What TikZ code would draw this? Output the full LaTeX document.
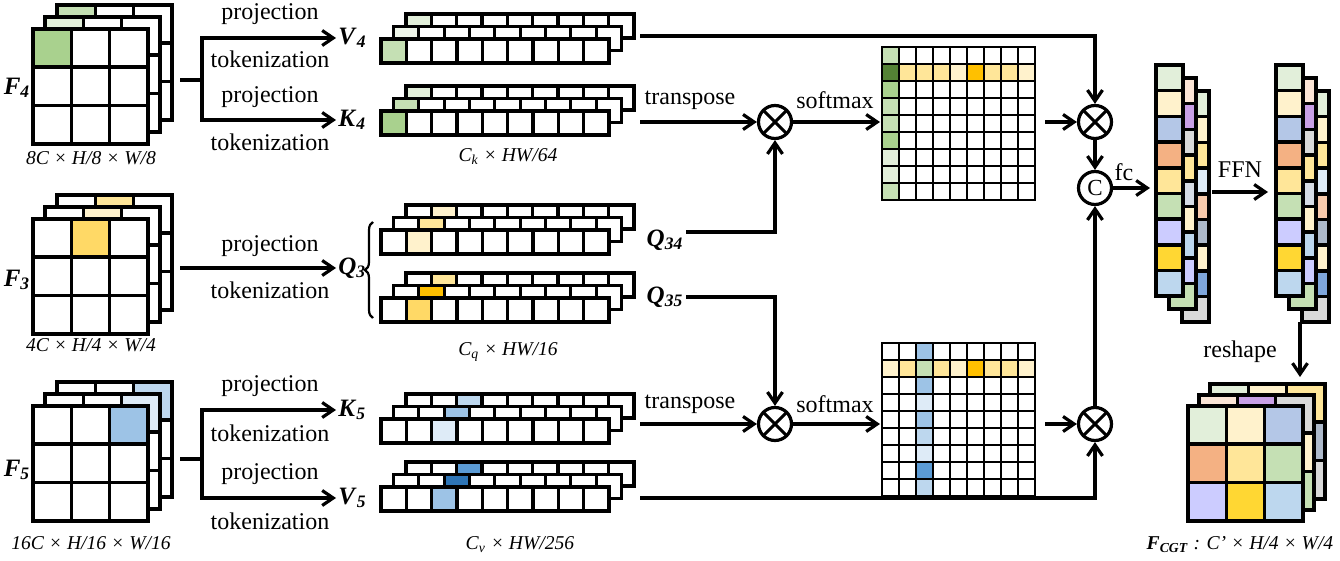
\documentclass[tikz,border=0pt]{standalone}
\usepackage{fontspec}
\setmainfont{Liberation Serif}
\usetikzlibrary{arrows.meta}
\usetikzlibrary{decorations.pathreplacing}

\definecolor{grn0}{HTML}{EEF5E9}
\definecolor{grn1}{HTML}{E2EFDA}
\definecolor{grn2}{HTML}{C5E0B4}
\definecolor{grn3}{HTML}{A9D18E}
\definecolor{grn4}{HTML}{548235}
\definecolor{yel1}{HTML}{FFF2CC}
\definecolor{yel2}{HTML}{FFE699}
\definecolor{yel3}{HTML}{FFD966}
\definecolor{yel4}{HTML}{FFC000}
\definecolor{yel5}{HTML}{FFD733}
\definecolor{blu1}{HTML}{DEEBF7}
\definecolor{blu2}{HTML}{BDD7EE}
\definecolor{blu3}{HTML}{9DC3E6}
\definecolor{blu4}{HTML}{5B9BD5}
\definecolor{blu5}{HTML}{2E75B6}
\definecolor{blu6}{HTML}{7EA6DC}
\definecolor{bluA}{HTML}{B4C7E7}
\definecolor{org}{HTML}{F4B183}
\definecolor{peach}{HTML}{FBE5D6}
\definecolor{peach2}{HTML}{F8CBAD}
\definecolor{lav}{HTML}{CCCCFF}
\definecolor{purp}{HTML}{C9A0E6}
\definecolor{gry}{HTML}{D9D9D9}
\definecolor{gblu}{HTML}{D6DCE5}
\definecolor{slate}{HTML}{ADB9CA}

\newcommand{\vsym}[2]{\textbf{\textit{#1}}\textsubscript{\textbf{\textit{#2}}}}

\newcommand{\gridlayer}[3]{%
  \foreach \cl [count=\i from 0] in {#3} {
    \pgfmathtruncatemacro\gcol{mod(\i,3)}
    \pgfmathtruncatemacro\grow{div(\i,3)}
    \draw[cell, fill=\cl] ({#1+38.3*\gcol},{#2+38.3*\grow}) rectangle ++(38.3,38.3);
  }}

\newcommand{\colstrip}[3]{%
  \foreach \cl [count=\i from 0] in {#3}
    \draw[cell, fill=\cl] ({#1},{#2+25.7*\i}) rectangle ++(27,25.7);}

\newcommand{\tokstack}[6]{%
  \foreach \l/\cl in {2/#4,1/#5,0/#6} {
    \foreach \i in {0,...,8}
      \draw[tok, fill=white] ({#1+12.5*\l+25.33*\i},{#2-12.5*\l}) rectangle ++(25.33,24);
    \draw[tok, fill=\cl] ({#1+12.5*\l+25.33*#3},{#2-12.5*\l}) rectangle ++(25.33,24);
  }}

\newcommand{\attmap}[2]{%
  \foreach \r in {0,...,8}
    \foreach \k in {0,...,8}
      \draw[mcell, fill=white] ({#1+17*\k},{#2+17*\r}) rectangle ++(17,17);}

\begin{document}
\begin{tikzpicture}[x=0.5pt, y=-0.5pt,
  cell/.style={draw, line width=1.8pt},
  tok/.style={draw, line width=1.6pt},
  mcell/.style={draw, line width=1.4pt},
  conn/.style={line width=1.6pt},
  arr/.style={line width=1.6pt, -{Straight Barb[length=5.5pt,width=7.5pt]}},
  op/.style={circle, draw, line width=1.6pt, minimum size=16.5pt, inner sep=0pt},
  mulop/.style={op, path picture={\draw[line width=1.5pt]
    (path picture bounding box.north east) -- (path picture bounding box.south west)
    (path picture bounding box.north west) -- (path picture bounding box.south east);}},
  txt/.style={font=\fontsize{12}{14}\selectfont},
  lbl/.style={font=\fontsize{12.5}{14}\selectfont, inner sep=1pt},
  capt/.style={font=\fontsize{9.8}{11}\selectfont\itshape}]
  \useasboundingbox (0,0) rectangle (1340,561);

  % input feature maps
  \gridlayer{57}{5}{grn2,white,white,white,white,white,white,white,white}
  \gridlayer{45}{17}{grn1,white,white,white,white,white,white,white,white}
  \gridlayer{33}{29}{grn3,white,white,white,white,white,white,white,white}
  \gridlayer{57}{195}{white,yel2,white,white,white,white,white,white,white}
  \gridlayer{45}{207}{white,yel1,white,white,white,white,white,white,white}
  \gridlayer{33}{219}{white,yel3,white,white,white,white,white,white,white}
  \gridlayer{57}{382}{white,white,blu2,white,white,white,white,white,white}
  \gridlayer{45}{394}{white,white,blu1,white,white,white,white,white,white}
  \gridlayer{33}{406}{white,white,blu3,white,white,white,white,white,white}

  \node[lbl] (f4) at (17,88) {\vsym{F}{4}};
  \node[lbl] (f3) at (17,280) {\vsym{F}{3}};
  \node[lbl] (f5) at (17,470) {\vsym{F}{5}};
  \node[capt] at (91,158) {8C × H/8 × W/8};
  \node[capt] at (91,345) {4C × H/4 × W/4};
  \node[capt] at (91,543) {16C × H/16 × W/16};

  % tokens
  \tokstack{381}{39}{0}{grn1}{grn0}{grn2}
  \tokstack{381}{111}{0}{grn1}{grn2}{grn3}
  \tokstack{381}{230}{1}{yel1}{yel2}{yel1}
  \tokstack{381}{298}{1}{yel2}{yel4}{yel3}
  \tokstack{381}{419}{2}{blu2}{blu3}{blu1}
  \tokstack{381}{487}{2}{blu4}{blu5}{blu3}

  \node[capt] at (508,157) {C\textsubscript{k} × HW/64};
  \node[capt] at (508,352) {C\textsubscript{q} × HW/16};
  \node[capt] at (520,545) {C\textsubscript{v} × HW/256};

  \node[lbl, anchor=west] (v4) at (336,38) {\vsym{V}{4}};
  \node[lbl, anchor=west] (k4) at (336,120) {\vsym{K}{4}};
  \node[lbl, anchor=west] (q3) at (336,268) {\vsym{Q}{3}};
  \node[lbl, anchor=west] (k5) at (336,410) {\vsym{K}{5}};
  \node[lbl, anchor=west] (v5) at (336,498) {\vsym{V}{5}};
  \node[lbl] (q34) at (665,240) {\vsym{Q}{34}};
  \node[lbl] (q35) at (665,297) {\vsym{Q}{35}};
  \draw[line width=1.1pt, decorate, decoration={brace, amplitude=4pt}] (373,318) -- (373,222);

  \coordinate (f4o) at (180,80);
  \coordinate (f4j) at (202,80);
  \coordinate (f3o) at (180,268);
  \coordinate (f5o) at (180,459);
  \coordinate (f5j) at (202,459);
  \draw[conn] (f4o) -- (f4j);
  \draw[arr] (f4j) |- (v4.west);
  \draw[arr] (f4j) |- (k4.west);
  \draw[arr] (f3o) -- (q3.west);
  \draw[conn] (f5o) -- (f5j);
  \draw[arr] (f5j) |- (k5.west);
  \draw[arr] (f5j) |- (v5.west);

  \node[txt] at (270,14) {projection};
  \node[txt] at (270,59) {tokenization};
  \node[txt] at (270,97) {projection};
  \node[txt] at (270,142) {tokenization};
  \node[txt] at (270,246) {projection};
  \node[txt] at (270,290) {tokenization};
  \node[txt] at (270,386) {projection};
  \node[txt] at (270,433) {tokenization};
  \node[txt] at (270,474) {projection};
  \node[txt] at (270,521) {tokenization};

  % attention maps
  \attmap{882}{47}
  \foreach \r/\cl in {0/grn2,1/grn4,2/grn3,3/grn2,4/grn2,5/grn3,6/grn1,7/grn1,8/grn2}
    \draw[mcell, fill=\cl] (882,{47+17*\r}) rectangle ++(17,17);
  \foreach \k/\cl in {1/yel2,2/yel2,3/yel2,4/yel1,5/yel4,6/yel2,7/yel2,8/yel1}
    \draw[mcell, fill=\cl] ({882+17*\k},64) rectangle ++(17,17);
  \attmap{882}{343}
  \foreach \r/\cl in {0/blu3,1/grn2,2/blu3,3/blu1,4/blu3,5/blu2,6/blu1,7/blu4,8/blu2}
    \draw[mcell, fill=\cl] (916,{343+17*\r}) rectangle ++(17,17);
  \foreach \k/\cl in {0/yel1,1/yel2,3/yel2,4/yel1,5/yel4,6/yel2,7/yel2,8/yel1}
    \draw[mcell, fill=\cl] ({882+17*\k},360) rectangle ++(17,17);

  \node[mulop] (mul1) at (775,122) {};
  \node[mulop] (mul2) at (775,424) {};
  \node[mulop] (mul3) at (1095,122) {};
  \node[mulop] (mul4) at (1095,424) {};
  \node[op, font=\fontsize{11.5}{12}\selectfont] (cat) at (1095,188) {C};

  \coordinate (v4e) at (640,36);
  \coordinate (k4e) at (640,122);
  \coordinate (q34e) at (686,232);
  \coordinate (q35e) at (686,297);
  \coordinate (k5e) at (640,424);
  \coordinate (v5e) at (640,498);
  \coordinate (att1w) at (880,122);
  \coordinate (att1e) at (1045,122);
  \coordinate (att2w) at (880,424);
  \coordinate (att2e) at (1045,424);

  \draw[arr] (k4e) -- (mul1.west);
  \draw[arr] (q34e) -| (mul1.south);
  \draw[arr] (mul1.east) -- (att1w);
  \draw[arr] (att1e) -- (mul3.west);
  \draw[arr] (v4e) -| (mul3.north);
  \draw[arr] (k5e) -- (mul2.west);
  \draw[arr] (q35e) -| (mul2.north);
  \draw[arr] (mul2.east) -- (att2w);
  \draw[arr] (att2e) -- (mul4.west);
  \draw[arr] (v5e) -| (mul4.south);
  \draw[arr] (mul3.south) -- (cat.north);
  \draw[arr] (mul4.north) -- (cat.south);

  \node[txt] at (690,100) {transpose};
  \node[txt] at (835,100) {softmax};
  \node[txt] at (690,404) {transpose};
  \node[txt] at (835,404) {softmax};

  % output tokens
  \colstrip{1182}{91}{grn1,yel1,yel2,blu1,peach2,slate,yel1,blu6,gry}
  \colstrip{1169}{78}{peach,purp,gry,yel2,gblu,yel1,blu2,lav,grn2}
  \colstrip{1156}{65}{grn1,yel1,bluA,org,yel2,grn2,lav,yel5,blu2}
  \colstrip{1302}{91}{grn1,yel1,yel2,blu1,peach2,slate,yel1,blu6,gry}
  \colstrip{1289}{78}{peach,purp,gry,yel2,gblu,yel1,blu2,lav,grn2}
  \colstrip{1276}{65}{grn1,yel1,bluA,org,yel2,grn2,lav,yel5,blu2}

  \coordinate (col1w) at (1150,188);
  \coordinate (col1e) at (1212,192);
  \coordinate (col2w) at (1268,192);
  \coordinate (col2s) at (1300,322);
  \coordinate (cgtn) at (1300,377);
  \draw[arr] (cat.east) -- (col1w);
  \draw[arr] (col1e) -- (col2w);
  \draw[arr] (col2s) -- (cgtn);
  \node[txt] at (1124,172) {fc};
  \node[txt] at (1240,170) {FFN};
  \node[txt] at (1240,352) {reshape};

  % output feature map
  \gridlayer{1210}{384}{grn1,yel1,yel2,blu1,peach2,slate,yel1,blu6,gry}
  \gridlayer{1199}{395}{peach,purp,gry,yel2,gblu,yel1,blu2,lav,grn2}
  \gridlayer{1188}{406}{grn1,yel1,bluA,org,yel2,grn2,lav,yel5,blu2}
  \node[capt, font=\fontsize{9.8}{11}\selectfont] at (1240,545) {\vsym{F}{CGT}\textit{ : C' × H/4 × W/4}};
\end{tikzpicture}
\end{document}
